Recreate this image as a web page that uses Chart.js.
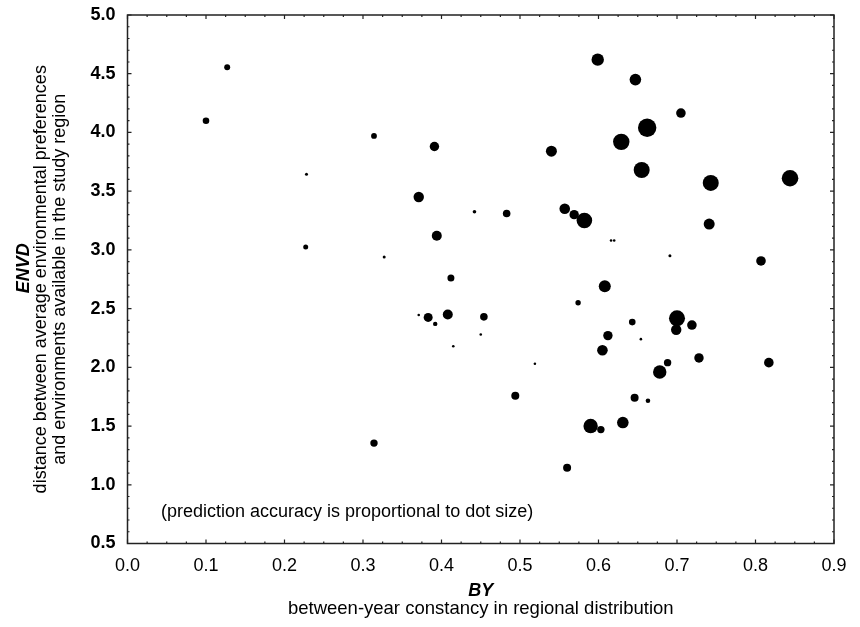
<!DOCTYPE html>
<html>
<head>
<meta charset="utf-8">
<script src="https://cdn.jsdelivr.net/npm/chart.js@4"></script>
<style>
    html, body { margin: 0; padding: 0; background: #fff; }
    #wrap { width: 860px; height: 627px; }
</style>
</head>
<body>
<div id="wrap"><canvas id="env-scatter"></canvas></div>
<script>
// between-year constancy (x)
var byValues = [
    0.100, 0.127, 0.228, 0.227, 0.314, 0.327, 0.314, 0.371, 0.391, 0.394,
    0.371, 0.383, 0.392, 0.408, 0.412, 0.415, 0.442, 0.450, 0.454, 0.483,
    0.494, 0.519, 0.540, 0.557, 0.569, 0.582, 0.574, 0.560, 0.590, 0.603,
    0.599, 0.605, 0.608, 0.612, 0.616, 0.620, 0.629, 0.631, 0.643, 0.646,
    0.647, 0.655, 0.662, 0.654, 0.663, 0.678, 0.688, 0.691, 0.700, 0.699,
    0.705, 0.719, 0.728, 0.741, 0.743, 0.807, 0.817, 0.844
];
// ENVD (y)
var envdValues = [
    4.10, 4.555, 3.645, 3.025, 3.97, 2.94, 1.355, 3.45, 3.88, 3.12,
    2.445, 2.425, 2.37, 2.45, 2.76, 2.18, 3.325, 2.28, 2.43, 3.31,
    1.757, 2.03, 3.84, 3.35, 3.30, 3.25, 2.55, 1.146, 1.50, 1.47,
    4.62, 2.145, 2.69, 2.27, 3.08, 3.08, 3.92, 1.53, 2.385, 1.74,
    4.45, 3.68, 4.04, 2.24, 1.715, 1.96, 2.04, 2.95, 2.417, 2.32,
    4.165, 2.36, 2.08, 3.22, 3.57, 2.906, 2.04, 3.61
];
// prediction accuracy (relative, shown as dot size)
var accuracy = [
    3.3, 3.0, 1.5, 2.5, 2.9, 1.5, 3.7, 5.2, 4.7, 5.0,
    1.3, 4.5, 2.2, 5.0, 3.5, 1.3, 1.8, 1.3, 3.8, 3.8,
    4.0, 1.3, 5.5, 5.3, 4.7, 7.8, 2.7, 4.0, 7.2, 3.7,
    6.2, 5.3, 6.0, 4.7, 1.3, 1.3, 8.2, 5.8, 3.3, 4.0,
    5.8, 8.0, 9.2, 1.3, 2.3, 6.7, 3.7, 1.5, 8.0, 5.2,
    4.8, 4.8, 4.7, 5.5, 8.0, 4.8, 4.8, 8.3
];
var xTicks = [0.0, 0.1, 0.2, 0.3, 0.4, 0.5, 0.6, 0.7, 0.8, 0.9];
var yTicks = [0.5, 1.0, 1.5, 2.0, 2.5, 3.0, 3.5, 4.0, 4.5, 5.0];

var FONT = '"Liberation Sans", Arial, sans-serif';

var points = byValues.map(function (x, i) {
    return { x: x, y: envdValues[i] };
});

// frame + inward ticks, and the axis titles
var framePlugin = {
    id: 'frame',
    afterDraw: function (chart) {
        var ctx = chart.ctx;
        var a = chart.chartArea;
        var xs = chart.scales.x;
        var ys = chart.scales.y;
        ctx.save();
        ctx.strokeStyle = '#222';
        ctx.lineWidth = 1.5;
        ctx.strokeRect(a.left, a.top, a.right - a.left, a.bottom - a.top);

        ctx.lineWidth = 1.2;
        ctx.beginPath();
        for (var i = 0; i <= 36; i++) {
            var px = xs.getPixelForValue(i * 0.025);
            var len = (i % 4 == 0) ? 4 : 2;
            ctx.moveTo(px, a.bottom); ctx.lineTo(px, a.bottom - len);
            ctx.moveTo(px, a.top); ctx.lineTo(px, a.top + len);
        }
        for (var j = 0; j <= 45; j++) {
            var py = ys.getPixelForValue(0.5 + j * 0.1);
            var l2 = (j % 5 == 0) ? 4 : 2;
            ctx.moveTo(a.left, py); ctx.lineTo(a.left + l2, py);
            ctx.moveTo(a.right, py); ctx.lineTo(a.right - l2, py);
        }
        ctx.stroke();

        ctx.fillStyle = '#000';
        ctx.textAlign = 'center';
        ctx.textBaseline = 'middle';

        // x title
        var cx = (a.left + a.right) / 2;
        ctx.font = 'italic bold 18px ' + FONT;
        ctx.fillText('BY', cx, 591);
        ctx.font = '18.5px ' + FONT;
        ctx.fillText('between-year constancy in regional distribution', cx, 609);

        // y title (rotated)
        var cy = (a.top + a.bottom) / 2;
        ctx.translate(0, cy);
        ctx.rotate(-Math.PI / 2);
        ctx.font = 'italic bold 18px ' + FONT;
        ctx.fillText('ENVD', 11, 24);
        ctx.font = '18px ' + FONT;
        ctx.fillText('distance between average environmental preferences', 0, 41);
        ctx.fillText('and environments available in the study region', 0, 60);
        ctx.restore();

        // note inside the plot
        ctx.save();
        ctx.fillStyle = '#000';
        ctx.font = '18px ' + FONT;
        ctx.textAlign = 'left';
        ctx.textBaseline = 'middle';
        ctx.fillText('(prediction accuracy is proportional to dot size)', 161, 512);
        ctx.restore();
    }
};

var ctx = document.getElementById('env-scatter').getContext('2d');
var envChart = new Chart(ctx, {
    type: 'scatter',
    data: {
        datasets: [{
            label: 'species',
            data: points,
            backgroundColor: '#000',
            borderWidth: 0,
            pointRadius: function (c) { return accuracy[c.dataIndex]; },
            pointHoverRadius: function (c) { return accuracy[c.dataIndex]; }
        }]
    },
    options: {
        responsive: true,
        maintainAspectRatio: false,
        animation: false,
        layout: { padding: { left: 0, right: 26, top: 15, bottom: 0 } },
        plugins: {
            legend: { display: false },
            tooltip: { enabled: false }
        },
        scales: {
            x: {
                type: 'linear',
                min: xTicks[0],
                max: xTicks[xTicks.length - 1],
                grid: { display: false },
                border: { display: false },
                afterFit: function (s) { s.height = 83.5; },
                afterBuildTicks: function (s) {
                    s.ticks = xTicks.map(function (v) { return { value: v }; });
                },
                ticks: {
                    padding: 4,
                    color: '#000',
                    maxRotation: 0,
                    font: { family: FONT, size: 18 },
                    callback: function (v) { return Number(v).toFixed(1); }
                }
            },
            y: {
                type: 'linear',
                min: yTicks[0],
                max: yTicks[yTicks.length - 1],
                grid: { display: false },
                border: { display: false },
                afterFit: function (s) { s.width = 127.5; },
                afterBuildTicks: function (s) {
                    s.ticks = yTicks.map(function (v) { return { value: v }; });
                },
                ticks: {
                    padding: 4,
                    color: '#000',
                    font: { family: FONT, size: 18, weight: 'bold' },
                    callback: function (v) { return Number(v).toFixed(1); }
                }
            }
        }
    },
    plugins: [framePlugin]
});
</script>
</body>
</html>
